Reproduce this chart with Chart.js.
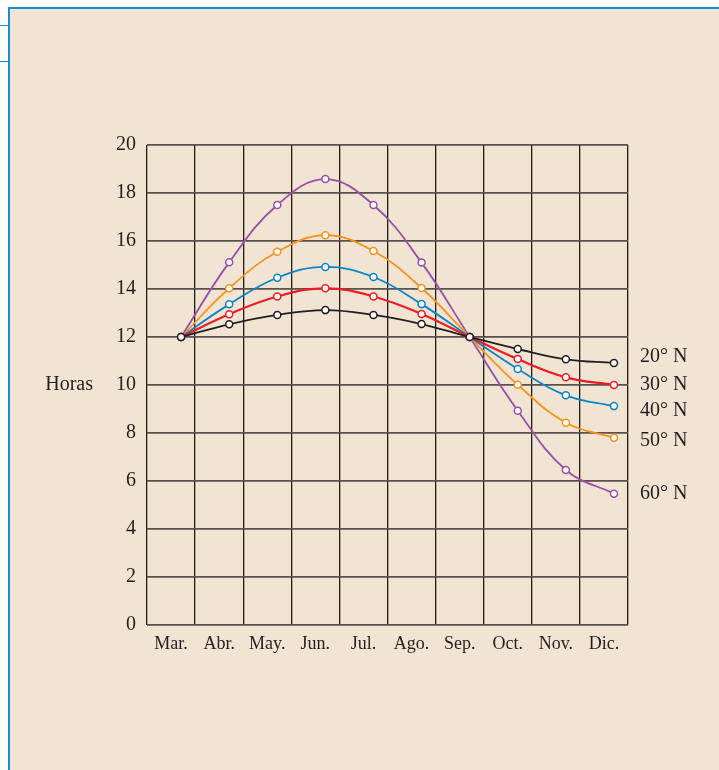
<!DOCTYPE html>
<html>
<head>
<meta charset="utf-8">
<script src="https://cdn.jsdelivr.net/npm/chart.js@4/dist/chart.umd.min.js"></script>
<style>
  html, body { margin: 0; padding: 0; background: #ffffff; }
  body { width: 719px; height: 770px; position: relative; overflow: hidden; }
  #panel {
    position: absolute; left: 8px; top: 7px; right: 0; bottom: 0;
    background: #f1e4d2;
    border-left: 2px solid #1a8bd0;
    border-top: 2px solid #1a8bd0;
  }
  .tab { position: absolute; left: 0; width: 9px; height: 1px; background: #1a8bd0; }
  #grafico { position: absolute; left: 0; top: 0; }
</style>
</head>
<body>
<div id="panel"></div>
<div class="tab" style="top:25px"></div>
<div class="tab" style="top:61px"></div>
<canvas id="grafico" width="719" height="770"></canvas>
<script>
const meses = ['Mar.', 'Abr.', 'May.', 'Jun.', 'Jul.', 'Ago.', 'Sep.', 'Oct.', 'Nov.', 'Dic.'];
const yTicks = [0, 2, 4, 6, 8, 10, 12, 14, 16, 18, 20];

const latitudes = ['20° N', '30° N', '40° N', '50° N', '60° N'];
const horas20 = [12, 12.53, 12.92, 13.12, 12.92, 12.54, 12, 11.5, 11.07, 10.92];
const horas30 = [12, 12.95, 13.69, 14.03, 13.69, 12.96, 12, 11.08, 10.32, 10.0];
const horas40 = [12, 13.36, 14.47, 14.92, 14.5, 13.37, 12, 10.67, 9.57, 9.12];
const horas50 = [12, 14.03, 15.55, 16.24, 15.58, 14.04, 12, 10.01, 8.43, 7.8];
const horas60 = [12, 15.11, 17.5, 18.58, 17.5, 15.1, 12, 8.93, 6.46, 5.47];
// altura de las etiquetas de la derecha (en horas)
const etiquetaY = [11.17, 10.0, 8.92, 7.67, 5.46];

const colores = ['#231f20', '#ee1c25', '#0a86c8', '#f7941d', '#9b4ea6'];
const series = [horas20, horas30, horas40, horas50, horas60];

const desfase = 34 / 48; // los puntos no estan centrados en la columna

const datasets = series.map((vals, i) => ({
    label: latitudes[i],
    data: vals.map((v, k) => ({ x: k + desfase, y: v })),
    borderColor: colores[i],
    borderWidth: i === 1 ? 2.2 : 1.8,
    pointBackgroundColor: '#ffffff',
    pointBorderColor: colores[i],
    pointBorderWidth: 1.5,
    pointRadius: 3.5,
    tension: 0.4,
    fill: false
}));

const serif = 'Liberation Serif';

const textos = {
    id: 'textos',
    afterDraw(chart) {
        const ctx = chart.ctx;
        const y = chart.scales.y;
        const area = chart.chartArea;
        ctx.save();
        ctx.fillStyle = '#231f20';
        ctx.font = '20px "' + serif + '"';
        ctx.textBaseline = 'middle';
        ctx.textAlign = 'right';
        ctx.fillText('Horas', 93, y.getPixelForValue(10));
        ctx.textAlign = 'left';
        latitudes.forEach((t, i) => {
            ctx.fillText(t, area.right + 12, y.getPixelForValue(etiquetaY[i]));
        });
        ctx.restore();
    }
};

new Chart(document.getElementById('grafico'), {
    type: 'line',
    data: { datasets },
    options: {
        responsive: false,
        animation: false,
        layout: { padding: { left: 0, top: 145, right: 91, bottom: 115 } },
        plugins: { legend: { display: false }, tooltip: { enabled: false } },
        scales: {
            x: {
                type: 'linear',
                min: 0,
                max: meses.length,
                afterBuildTicks(scale) {
                    const t = [];
                    for (let v = 0; v <= meses.length; v += 0.5) t.push({ value: v });
                    scale.ticks = t;
                },
                afterFit(scale) { scale.height = 30; },
                grid: {
                    color: (c) => (c.tick && c.tick.value % 1 === 0) ? '#1e1c1c' : 'rgba(0,0,0,0)',
                    lineWidth: 1.3,
                    drawTicks: false
                },
                border: { display: false },
                ticks: {
                    autoSkip: false,
                    maxRotation: 0,
                    padding: 8,
                    color: '#231f20',
                    font: { family: serif, size: 18 },
                    callback: (v) => (v % 1 === 0.5) ? meses[Math.floor(v)] : ''
                }
            },
            y: {
                min: 0,
                max: 20,
                afterBuildTicks(scale) { scale.ticks = yTicks.map(v => ({ value: v })); },
                afterFit(scale) { scale.width = 147; },
                grid: { color: '#57524c', lineWidth: 1.8, drawTicks: false },
                border: { display: false },
                ticks: {
                    padding: 11,
                    color: '#231f20',
                    font: { family: serif, size: 20 }
                }
            }
        }
    },
    plugins: [textos]
});
</script>
</body>
</html>
